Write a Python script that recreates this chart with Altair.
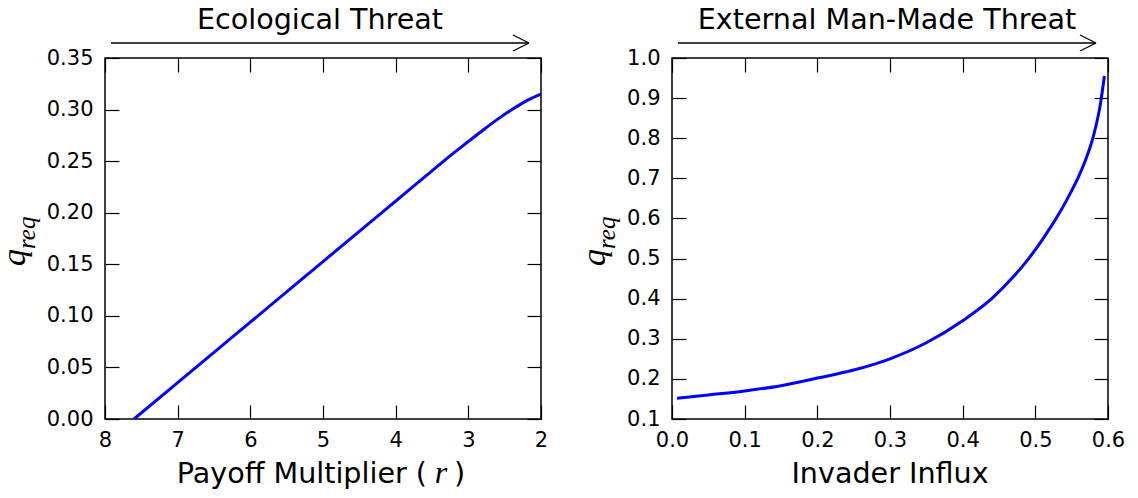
import altair as alt
import pandas as pd

# ---- data ----
r_vals = [7.6, 7.0, 6.0, 5.0, 4.0, 3.5, 3.2, 3.0, 2.8, 2.6, 2.4, 2.2, 2.0]
q_eco = [0.0, 0.0352, 0.0939, 0.1526, 0.2113, 0.2406, 0.2580, 0.2690, 0.2800, 0.2905, 0.3000, 0.3085, 0.3150]

influx = [0.007, 0.05, 0.1, 0.15, 0.2, 0.25, 0.3, 0.35, 0.4, 0.44, 0.47, 0.49, 0.51,
          0.53, 0.545, 0.56, 0.57, 0.58, 0.59, 0.595]
q_ext = [0.152, 0.160, 0.170, 0.183, 0.202, 0.222, 0.250, 0.290, 0.345, 0.400, 0.455, 0.498, 0.548,
         0.604, 0.652, 0.706, 0.750, 0.806, 0.890, 0.955]

eco_xticks = [8, 7, 6, 5, 4, 3, 2]
eco_yticks = [0.0, 0.05, 0.10, 0.15, 0.20, 0.25, 0.30, 0.35]
ext_xticks = [0.0, 0.1, 0.2, 0.3, 0.4, 0.5, 0.6]
ext_yticks = [0.1, 0.2, 0.3, 0.4, 0.5, 0.6, 0.7, 0.8, 0.9, 1.0]

W, H = 436, 361
TICK = 14
SANS = "DejaVu Sans"
MATH = "Liberation Serif"
TFS = 28.6   # title font size
LFS = 21     # tick label font size

df_eco = pd.DataFrame({"x": r_vals, "y": q_eco})
df_ext = pd.DataFrame({"x": influx, "y": q_ext})
one = pd.DataFrame({"a": [0]})


def panel(df, xdom, ydom, xticks, yticks, xfmt, yfmt, reverse, top_title, xtitle_parts, ylab_x):
    xs = alt.Scale(domain=xdom, reverse=reverse, nice=False, zero=False)
    ys = alt.Scale(domain=ydom, nice=False, zero=False)
    common = dict(tickSize=TICK, offset=-TICK, domain=False, grid=False,
                  tickColor="black", tickWidth=1.2, title=None,
                  labelFont=SANS, labelFontSize=LFS, labelColor="black",
                  labelFlush=False, labelOverlap=False)
    main = alt.Chart(df).mark_line(color="#0000ff", strokeWidth=3, clip=True,
                                   interpolate="monotone").encode(
        x=alt.X("x:Q", scale=xs, axis=alt.Axis(orient="bottom", values=xticks, format=xfmt,
                                                labelPadding=10, **common)),
        y=alt.Y("y:Q", scale=ys, axis=alt.Axis(orient="left", values=yticks, format=yfmt,
                                                labelPadding=12, **common)),
    )
    mirror = alt.Chart(df).mark_line(opacity=0).encode(
        x=alt.X("x:Q", scale=xs, axis=alt.Axis(orient="top", values=xticks, labels=False, **common)),
        y=alt.Y("y:Q", scale=ys, axis=alt.Axis(orient="right", values=yticks, labels=False, **common)),
    )
    base = alt.Chart(one)
    # arrow above the panel
    shaft = base.mark_rule(color="black", strokeWidth=1.3).encode(
        x=alt.value(6), x2=alt.value(424), y=alt.value(-15), y2=alt.value(-15))
    head1 = base.mark_rule(color="black", strokeWidth=1.3).encode(
        x=alt.value(408), x2=alt.value(424), y=alt.value(-23), y2=alt.value(-15))
    head2 = base.mark_rule(color="black", strokeWidth=1.3).encode(
        x=alt.value(408), x2=alt.value(424), y=alt.value(-7), y2=alt.value(-15))
    title = base.mark_text(text=top_title, font=SANS, fontSize=TFS, align="center",
                           baseline="alphabetic", color="black").encode(
        x=alt.value(215), y=alt.value(-29))
    # y title  q_req
    yq = base.mark_text(text="q", font=MATH, fontStyle="italic", fontSize=34, angle=270,
                        align="left", baseline="alphabetic", color="black").encode(
        x=alt.value(ylab_x), y=alt.value(208))
    yr = base.mark_text(text="req", font=MATH, fontStyle="italic", fontSize=25, angle=270,
                        align="left", baseline="alphabetic", color="black").encode(
        x=alt.value(ylab_x + 10), y=alt.value(191))
    layers = [main, mirror, shaft, head1, head2, title, yq, yr]
    for txt, xpos, align, style in xtitle_parts:
        layers.append(base.mark_text(text=txt, font=(MATH if style == "italic" else SANS),
                                     fontStyle=style, fontSize=(32 if style == "italic" else TFS),
                                     align=align, baseline="alphabetic", color="black").encode(
            x=alt.value(xpos), y=alt.value(425)))
    return alt.layer(*layers).resolve_axis(x="independent", y="independent").properties(
        width=W, height=H)


left = panel(df_eco, [2, 8], [0, 0.35], eco_xticks, eco_yticks, "d", ".2f", True,
             "Ecological Threat",
             [("Payoff Multiplier (", 322, "right", "normal"),
              ("r", 336, "center", "italic"),
              (")", 349, "left", "normal")],
             -80)
right = panel(df_ext, [0, 0.6], [0.1, 1.0], ext_xticks, ext_yticks, ".1f", ".1f", False,
              "External Man-Made Threat",
              [("Invader Influx", 218, "center", "normal")],
              -67)

chart = alt.hconcat(left, right, spacing=28).properties(
    padding={"left": -11, "top": -3, "right": 0, "bottom": 0}
).configure_view(stroke="black", strokeWidth=1.5)

chart.save("out.html", embed_options={"renderer": "svg", "actions": False})
